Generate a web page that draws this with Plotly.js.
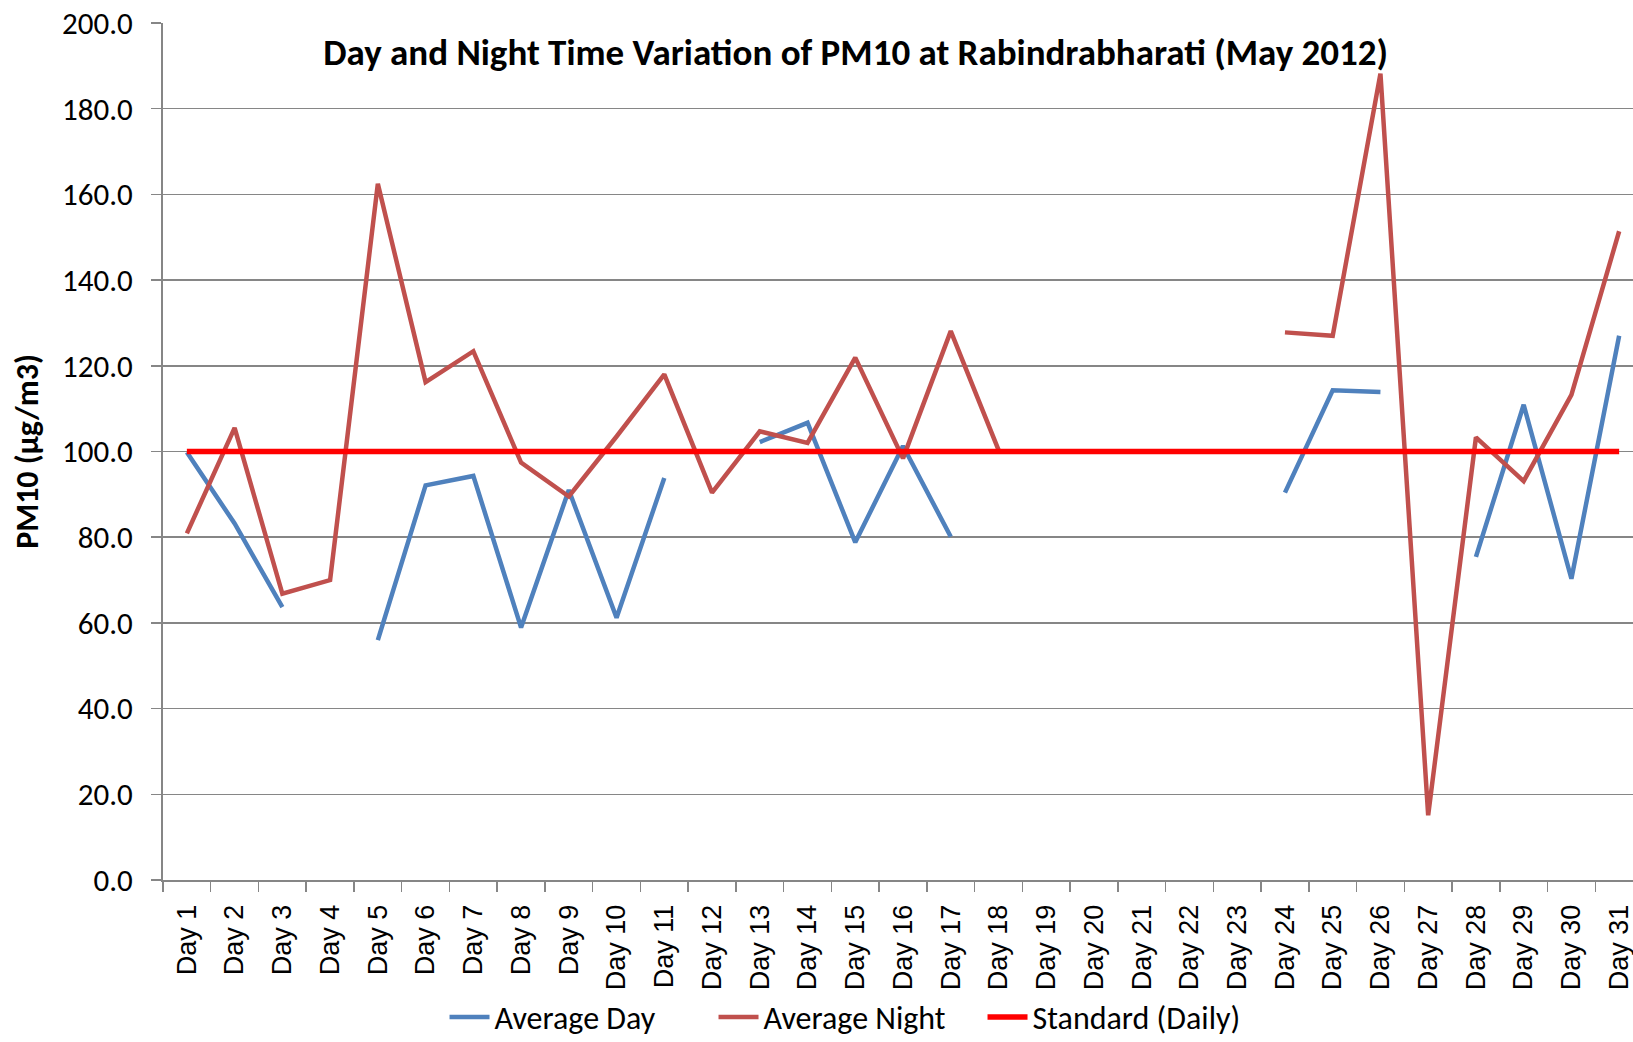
<!DOCTYPE html>
<html>
<head>
<meta charset="utf-8">
<script src="https://cdn.plot.ly/plotly-3.0.1.min.js"></script>
<style>html,body{margin:0;padding:0;background:#fff;overflow:hidden}</style>
</head>
<body>
<div id="chart" style="width:1633px;height:1042px"></div>
<script>
const days = ["Day 1","Day 2","Day 3","Day 4","Day 5","Day 6","Day 7","Day 8","Day 9","Day 10",
  "Day 11","Day 12","Day 13","Day 14","Day 15","Day 16","Day 17","Day 18","Day 19","Day 20",
  "Day 21","Day 22","Day 23","Day 24","Day 25","Day 26","Day 27","Day 28","Day 29","Day 30","Day 31"];
const averageDay = [99.8, 83.2, 63.7, null, 56.0, 92.1, 94.3, 58.9, 91.0, 61.2,
  93.8, null, 102.2, 106.7, 78.8, 101.3, 80.1, null, null, null,
  null, null, null, 90.4, 114.3, 113.9, null, 75.4, 110.9, 70.3, 127.0];
const averageNight = [80.9, 105.5, 66.8, 70.0, 162.5, 116.2, 123.4, 97.4, 89.5, 103.5,
  118.0, 90.4, 104.7, 102.0, 121.9, 98.4, 128.1, 100.4, null, null,
  null, null, null, 127.8, 127.0, 188.2, 15.1, 103.3, 93.1, 113.2, 151.4];
const standardDaily = [100,100,100,100,100,100,100,100,100,100,100,100,100,100,100,100,
  100,100,100,100,100,100,100,100,100,100,100,100,100,100,100];
const yTicks = [0,20,40,60,80,100,120,140,160,180,200];

const FONT = "Carlito, Calibri, 'Liberation Sans', sans-serif";
const ARIAL = "'Liberation Sans', Arial, sans-serif";

const traces = [
  {x: days, y: averageDay, name: "Average Day", type: "scatter", mode: "lines",
   line: {color: "#4F81BD", width: 4.5}, connectgaps: false},
  {x: days, y: averageNight, name: "Average Night", type: "scatter", mode: "lines",
   line: {color: "#C0504D", width: 4.5}, connectgaps: false},
  {x: days, y: standardDaily, name: "Standard (Daily)", type: "scatter", mode: "lines",
   line: {color: "#FF0000", width: 5.5}}
];

const layout = {
  width: 1633, height: 1042,
  margin: {l: 163, r: 0, t: 23, b: 162, pad: 0, autoexpand: false},
  paper_bgcolor: "#fff", plot_bgcolor: "#fff",
  font: {family: FONT, size: 31, color: "#000"},
  title: {text: "<b>Day and Night Time Variation of PM10 at Rabindrabharati (May 2012)</b>",
    font: {family: FONT, size: 37, color: "#000"},
    x: 0.524, xanchor: "center", y: 1 - 52/1042, yanchor: "middle"},
  showlegend: true,
  legend: {orientation: "h", x: 0.466, xanchor: "center", y: -0.16, yanchor: "middle",
    font: {family: FONT, size: 32, color: "#000"}, itemwidth: 40, tracegroupgap: 0,
    entrywidth: 214, entrywidthmode: "pixels"},
  xaxis: {type: "category", range: [-0.5, 30.29], tickangle: -90, automargin: false,
    tickson: "boundaries", ticks: "outside", ticklen: 10, tickcolor: "#868686", tickwidth: 1.5,
    showline: true, linecolor: "#868686", linewidth: 2, showgrid: false, zeroline: false,
    tickfont: {family: ARIAL, size: 27, color: "#000"}, ticklabelstandoff: 12},
  yaxis: {range: [0, 200], tickvals: yTicks, tickformat: ".1f", automargin: false,
    ticks: "outside", ticklen: 10, tickcolor: "#868686", tickwidth: 1.5,
    showline: true, linecolor: "#868686", linewidth: 2,
    showgrid: true, gridcolor: "#868686", gridwidth: 1.5, zeroline: false,
    tickfont: {family: FONT, size: 31, color: "#000"}, ticklabelstandoff: 12,
    title: {text: "<b>PM10 (µg/m3)</b>", font: {family: FONT, size: 32, color: "#000"}, standoff: 14}}
};

Plotly.newPlot("chart", traces, layout, {displayModeBar: false, staticPlot: true});
</script>
</body>
</html>
